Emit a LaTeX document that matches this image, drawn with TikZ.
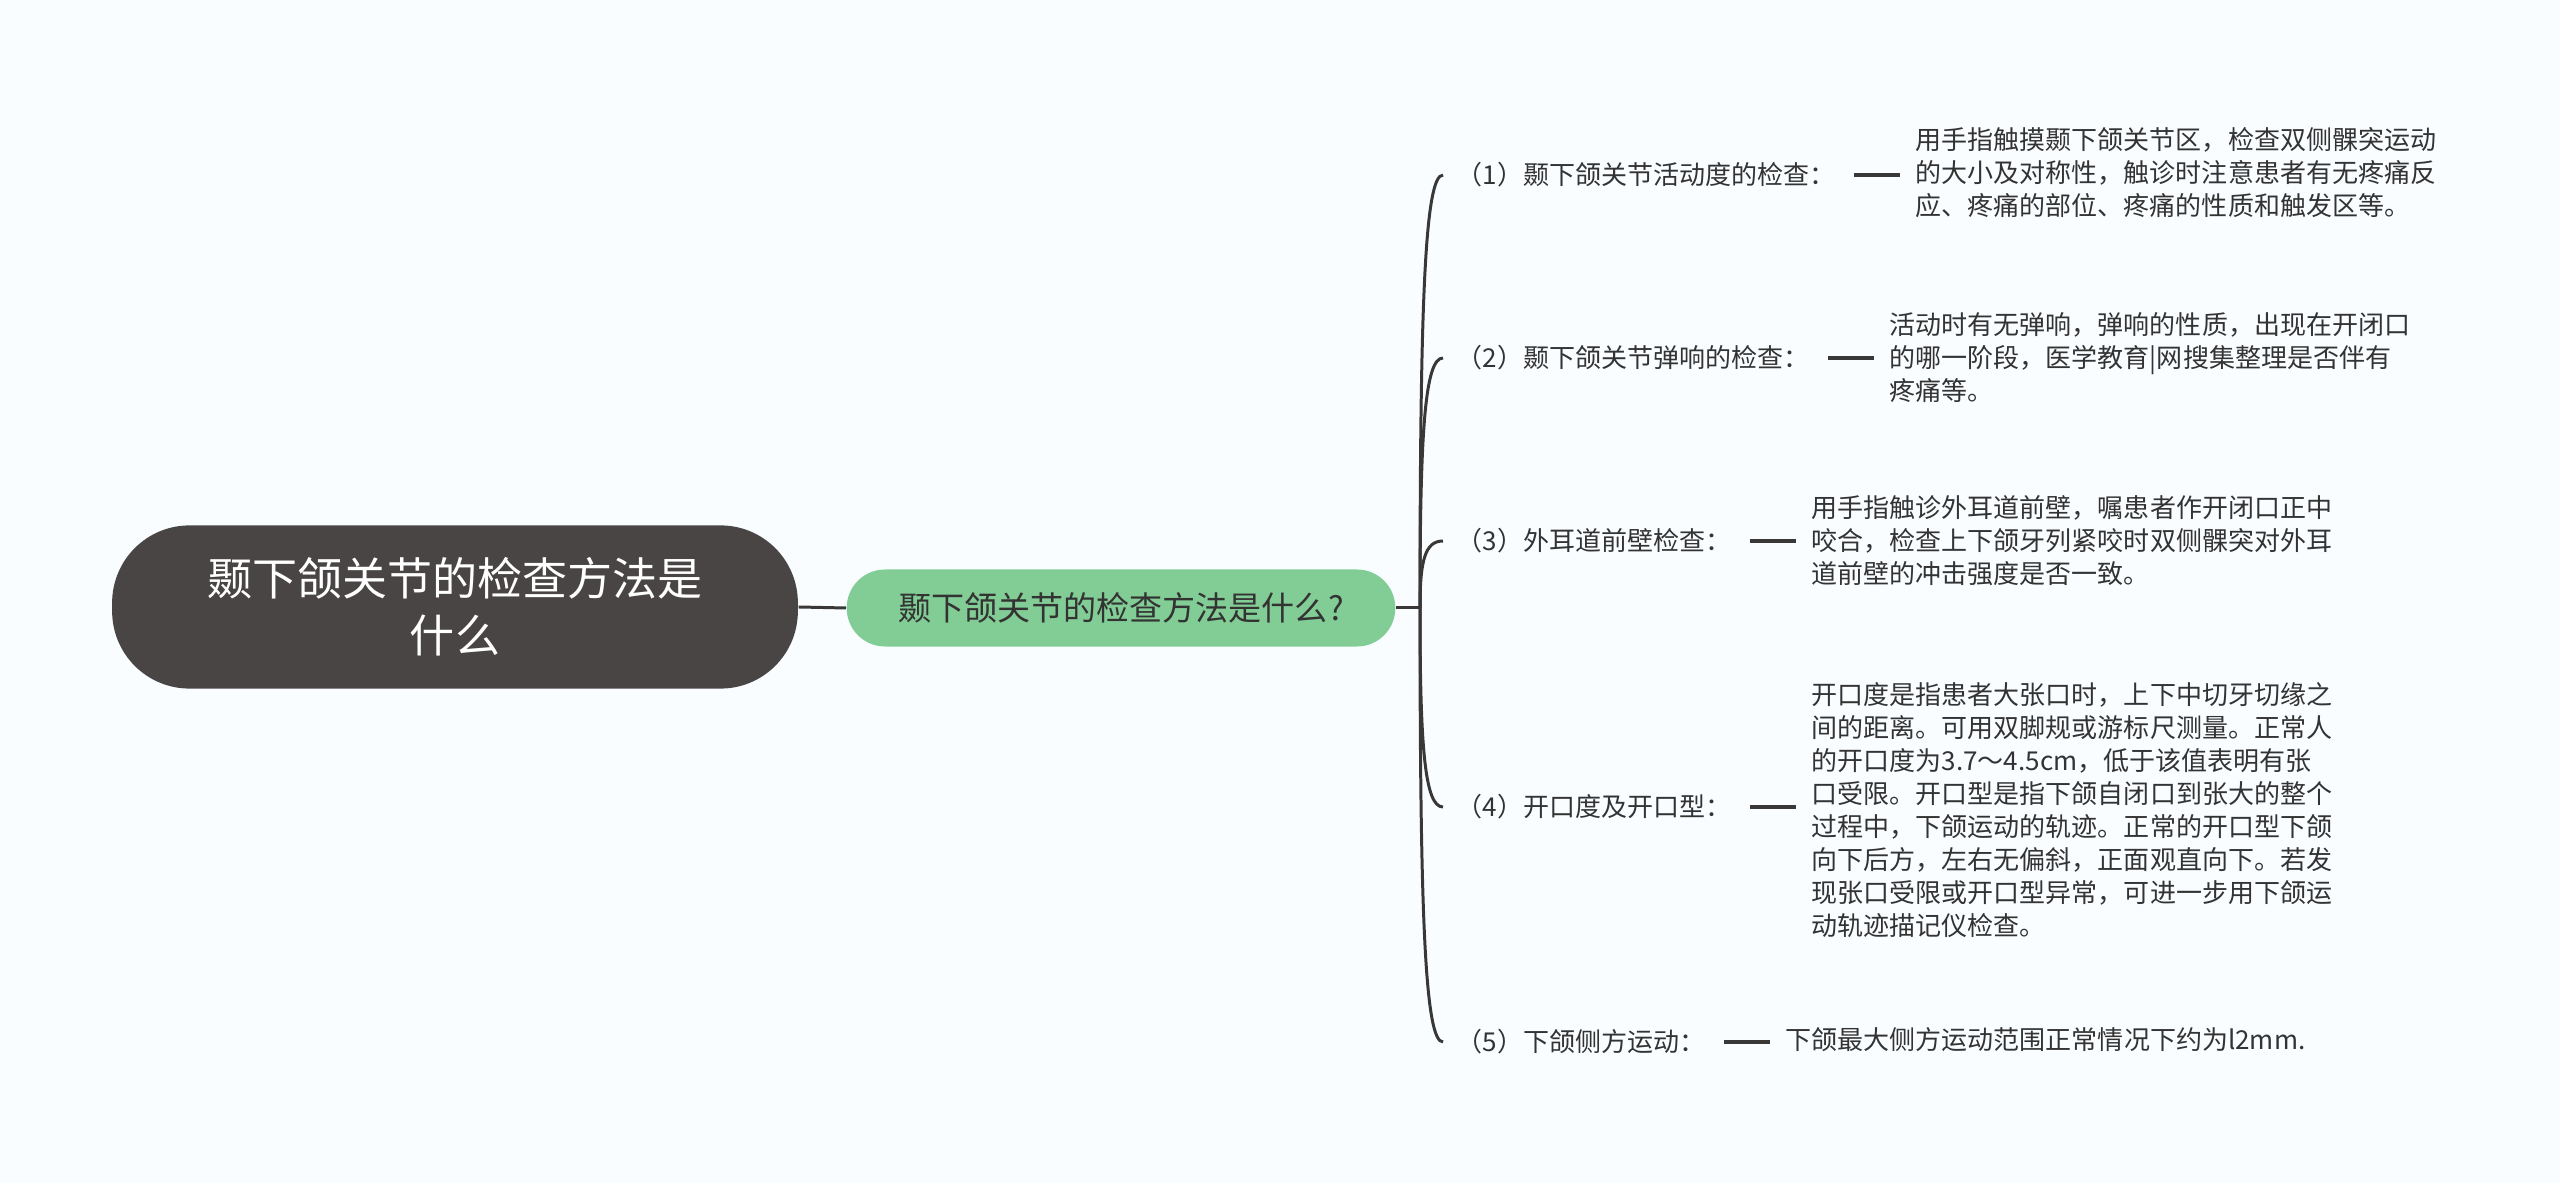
\documentclass[tikz,border=0pt]{standalone}
\usepackage{fontspec}
\setmainfont{Noto Sans CJK SC}
\usepackage{xcolor}
\usetikzlibrary{calc}
\definecolor{bgcol}{HTML}{FAFDFF}
\definecolor{rootcol}{HTML}{4A4545}
\definecolor{topiccol}{HTML}{82CD95}
\definecolor{linecol}{HTML}{3A3737}
\definecolor{txtcol}{HTML}{333333}

\begin{document}
\begin{tikzpicture}[x=0.01cm,y=-0.01cm,
  rootnode/.style={fill=rootcol,text=white,rounded corners=22pt,minimum width=195pt,
    minimum height=46.4pt,align=center,font=\fontsize{12.8}{16.2}\selectfont},
  topic/.style={fill=topiccol,text=txtcol,rounded corners=10.9pt,minimum width=156pt,
    minimum height=21.9pt,font=\fontsize{9.4}{11}\selectfont},
  lbl/.style={anchor=west,inner xsep=3.7pt,inner ysep=0pt,text=txtcol,font=\fontsize{7.4}{9.4}\selectfont},
  detail/.style={anchor=west,inner sep=0pt,align=left,text=txtcol,font=\fontsize{7.4}{9.4}\selectfont},
  link/.style={linecol,line width=0.85pt},
  stub/.style={linecol,line width=1.1pt,shorten <=1.5pt,shorten >=4.3pt}]
  \fill[bgcol] (0,0) rectangle (2560,1183);
  \useasboundingbox (0,0) rectangle (2560,1183);
  % centre and main topic
  \node[rootnode] (root) at (455,607) {颞下颌关节的检查方法是\\什么};
  \node[topic] (main) at (1121,608) {颞下颌关节的检查方法是什么?};
  \coordinate (j) at (1420,608);
  \draw[link] (root.east) -- (main.west);
  \draw[link] (main.east) -- (j);
  % branches
  \node[lbl] (l1) at (1443,175) {（1）颞下颌关节活动度的检查：};
  \node[lbl] (l2) at (1443,358) {（2）颞下颌关节弹响的检查：};
  \node[lbl] (l3) at (1443,541) {（3）外耳道前壁检查：};
  \node[lbl] (l4) at (1443,807) {（4）开口度及开口型：};
  \node[lbl] (l5) at (1443,1042) {（5）下颌侧方运动：};
  \foreach \n/\y in {1/175,2/358,3/541,4/807,5/1042}
    \draw[link] (j) .. controls (1420,{\y+0.29*(608-\y)}) and (1425,\y) .. (l\n.west);
  % details
  \node[detail] (d1) at (1915,173) {用手指触摸颞下颌关节区，检查双侧髁突运动\\的大小及对称性，触诊时注意患者有无疼痛反\\应、疼痛的部位、疼痛的性质和触发区等。};
  \node[detail] (d2) at (1889,358) {活动时有无弹响，弹响的性质，出现在开闭口\\的哪一阶段，医学教育|网搜集整理是否伴有\\疼痛等。};
  \node[detail] (d3) at (1811,541) {用手指触诊外耳道前壁，嘱患者作开闭口正中\\咬合，检查上下颌牙列紧咬时双侧髁突对外耳\\道前壁的冲击强度是否一致。};
  \node[detail] (d4) at (1811,810) {开口度是指患者大张口时，上下中切牙切缘之\\间的距离。可用双脚规或游标尺测量。正常人\\的开口度为3.7～4.5cm，低于该值表明有张\\口受限。开口型是指下颌自闭口到张大的整个\\过程中，下颌运动的轨迹。正常的开口型下颌\\向下后方，左右无偏斜，正面观直向下。若发\\现张口受限或开口型异常，可进一步用下颌运\\动轨迹描记仪检查。};
  \node[detail] (d5) at (1785,1040) {下颌最大侧方运动范围正常情况下约为l2mm.};
  \foreach \n in {1,...,5}
    \draw[stub] (l\n.east) -- (l\n.east -| d\n.west);
\end{tikzpicture}
\end{document}
